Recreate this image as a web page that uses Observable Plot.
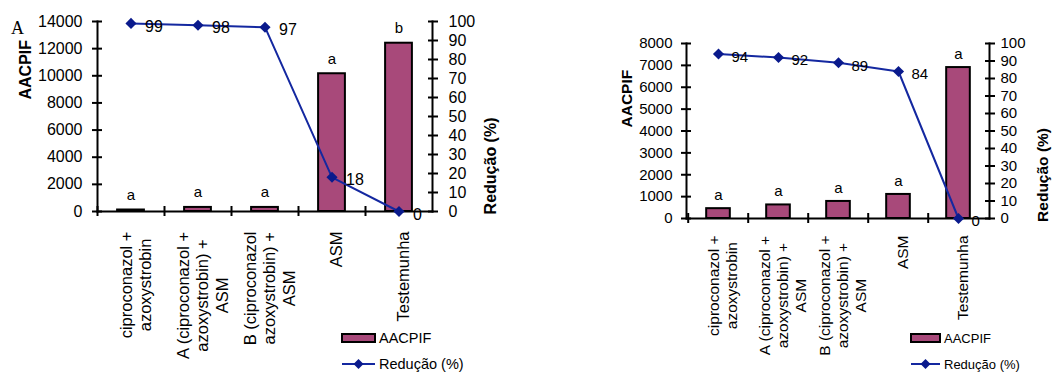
<!DOCTYPE html>
<html><head><meta charset="utf-8">
<script src="https://cdn.jsdelivr.net/npm/d3@7"></script>
<script src="https://cdn.jsdelivr.net/npm/@observablehq/plot@0.6"></script>
<style>
body{margin:0;background:#fff;}
#wrap{position:relative;width:1059px;height:374px;overflow:hidden;background:#fff;font-family:"Liberation Sans",Arial,sans-serif;}
.panel{position:absolute;top:0;}
#panelA{left:0;} #panelB{left:530px;}
#tagA{position:absolute;left:11px;top:18px;font-family:"Liberation Serif","Times New Roman",serif;font-size:18px;color:#000;}
#legend{position:absolute;left:0;top:0;pointer-events:none;}
</style></head><body><div id="wrap"><div id="panelA" class="panel"></div><div id="panelB" class="panel"></div><div id="tagA">A</div></div>
<script>
// ---- data ----
const categories = ["ciproconazol + azoxystrobin", "A (ciproconazol + azoxystrobin) + ASM", "B (ciproconazol + azoxystrobin) + ASM", "ASM", "Testemunha"];
const tickLabelsA = ["ciproconazol +\nazoxystrobin", "A (ciproconazol +\nazoxystrobin) +\nASM", "B (ciproconazol\nazoxystrobin) +\nASM", "ASM", "Testemunha"];
const tickLabelsB = ["ciproconazol +\nazoxystrobin", "A (ciproconazol +\nazoxystrobin) +\nASM", "B (ciproconazol +\nazoxystrobin) +\nASM", "ASM", "Testemunha"];
const aacpifA = [110, 300, 300, 10150, 12400];
const reducaoA = [99, 98, 97, 18, 0];
const lettersA = ["a", "a", "a", "a", "b"];
const aacpifB = [450, 620, 780, 1100, 6900];
const reducaoB = [94, 92, 89, 84, 0];
const lettersB = ["a", "a", "a", "a", "a"];
const leftTicksA = [0, 2000, 4000, 6000, 8000, 10000, 12000, 14000];
const leftTicksB = [0, 1000, 2000, 3000, 4000, 5000, 6000, 7000, 8000];
const rightTicks = [0, 10, 20, 30, 40, 50, 60, 70, 80, 90, 100];
const seriesNames = ["AACPIF", "Redução (%)"];
const yTitle = "AACPIF";
const y2Title = "Redução (%)";

// ---- style ----
const barColor = "#a8497a";
const lineColor = "#1428a0";
const markerColor = "#0a1a8c";
const FONT = '"Liberation Sans", Arial, sans-serif';

const ctx = document.createElement("canvas").getContext("2d");
function measure(s, fs) { ctx.font = `${fs}px "Liberation Sans", Arial, sans-serif`; return ctx.measureText(s).width; }

function panel(cfg) {
  const {width, height, ml, mr, mt, mb, yMax, leftTicks, aacpif, reducao, letters, labels,
         tickFs, catFs, catLh, catGap, valFs, valDx, valDy, letFs, letDy, titleFs,
         lPad, rPad, t1, t2} = cfg;
  const k = yMax / 100;
  const band = (width - ml - mr) / categories.length;
  const ins = band * 0.3;
  const rows = categories.map((c, i) => ({cat: c, aacpif: aacpif[i], red: reducao[i], letter: letters[i]}));
  const catMarks = categories.map((c, i) => {
    const lines = labels[i].split("\n");
    const w = Math.max(...lines.map(s => measure(s, catFs)));
    return Plot.text([labels[i]], {x: [c], text: d => d, frameAnchor: "bottom", rotate: -90,
      textAnchor: "middle", lineAnchor: "middle", lineHeight: catLh, dy: catGap + w / 2, dx: 4,
      fontSize: catFs, fill: "black"});
  });
  return Plot.plot({
    width, height, marginLeft: ml, marginRight: mr, marginTop: mt, marginBottom: mb,
    style: {fontFamily: FONT, background: "transparent", overflow: "visible", color: "black"},
    x: {type: "band", domain: categories, padding: 0, axis: null},
    y: {domain: [0, yMax], axis: null},
    marks: [
      Plot.barY(rows, {x: "cat", y: "aacpif", fill: barColor, stroke: "black", strokeWidth: 2, insetLeft: ins, insetRight: ins}),
      Plot.frame({anchor: "left", stroke: "black", strokeWidth: 2}),
      Plot.frame({anchor: "right", stroke: "black", strokeWidth: 2}),
      Plot.frame({anchor: "bottom", stroke: "black", strokeWidth: 2}),
      Plot.axisY({anchor: "left", ticks: leftTicks, tickSize: 10, dx: 5, tickPadding: lPad, fontSize: tickFs, label: null, strokeWidth: 2, tickFormat: d => String(d)}),
      Plot.axisY({anchor: "right", ticks: rightTicks.map(v => v * k), tickSize: 10, dx: -5, tickPadding: rPad, fontSize: tickFs, label: null, strokeWidth: 2, tickFormat: v => String(Math.round(v / k))}),
      Plot.axisX({anchor: "bottom", tickSize: 10, dy: -5, dx: -band / 2, tickFormat: () => "", label: null, strokeWidth: 2}),
      Plot.line(rows, {x: "cat", y: d => d.red * k, stroke: lineColor, strokeWidth: 2}),
      Plot.dot(rows, {x: "cat", y: d => d.red * k, symbol: "diamond2", r: 5, fill: markerColor, stroke: "none"}),
      Plot.text(rows, {x: "cat", y: d => d.red * k, text: d => String(d.red), dx: valDx, dy: valDy, textAnchor: "start", fontSize: valFs, fill: "black"}),
      Plot.text(rows, {x: "cat", y: "aacpif", text: "letter", dy: letDy, fontSize: letFs, fill: "black"}),
      ...catMarks,
      Plot.text([yTitle], {text: d => d, frameAnchor: "left", rotate: -90, dx: t1[0], dy: t1[1], fontSize: titleFs, fontWeight: "bold", fill: "black"}),
      Plot.text([y2Title], {text: d => d, frameAnchor: "right", rotate: -90, dx: t2[0], dy: t2[1], fontSize: titleFs, fontWeight: "bold", fill: "black"})
    ]
  });
}

const svgA = panel({width: 530, height: 374, ml: 97, mr: 98, mt: 21, mb: 163, yMax: 14000, leftTicks: leftTicksA,
  aacpif: aacpifA, reducao: reducaoA, letters: lettersA, labels: tickLabelsA,
  tickFs: 16, catFs: 16.5, catLh: 1.18, catGap: 20, valFs: 16, valDx: 14, valDy: 3, letFs: 15, letDy: -15, titleFs: 16,
  lPad: 10, rPad: 11, t1: [-72, -17], t2: [58, 1]});
const svgB = panel({width: 529, height: 374, ml: 156, mr: 70, mt: 43, mb: 156, yMax: 8000, leftTicks: leftTicksB,
  aacpif: aacpifB, reducao: reducaoB, letters: lettersB, labels: tickLabelsB,
  tickFs: 15, catFs: 15.5, catLh: 1.15, catGap: 17, valFs: 15, valDx: 13, valDy: 3, letFs: 15, letDy: -13.5, titleFs: 15.5,
  lPad: 9, rPad: 6, t1: [-59, -3.5], t2: [54, -3]});
document.getElementById("panelA").appendChild(svgA);
document.getElementById("panelB").appendChild(svgB);

// ---- legends ----
const leg = d3.select("#wrap").append("svg").attr("id", "legend").attr("width", 1059).attr("height", 374);
function legend(x0, w, textX, fs) {
  const g = leg.append("g").attr("font-family", FONT).attr("font-size", fs);
  g.append("rect").attr("x", x0).attr("y", 334).attr("width", w).attr("height", 8)
    .attr("fill", barColor).attr("stroke", "black").attr("stroke-width", 2);
  g.append("text").attr("x", textX).attr("y", 338).attr("dy", "0.35em").text(seriesNames[0]);
  g.append("line").attr("x1", x0).attr("x2", x0 + w).attr("y1", 364).attr("y2", 364)
    .attr("stroke", lineColor).attr("stroke-width", 2);
  const cx = x0 + w / 2;
  g.append("path").attr("d", `M${cx},${364 - 5}L${cx + 5},364L${cx},${364 + 5}L${cx - 5},364Z`).attr("fill", markerColor);
  g.append("text").attr("x", textX).attr("y", 364).attr("dy", "0.35em").text(seriesNames[1]);
}
legend(342, 33, 379, 14.5);
legend(911, 29, 944, 13);
</script></body></html>
